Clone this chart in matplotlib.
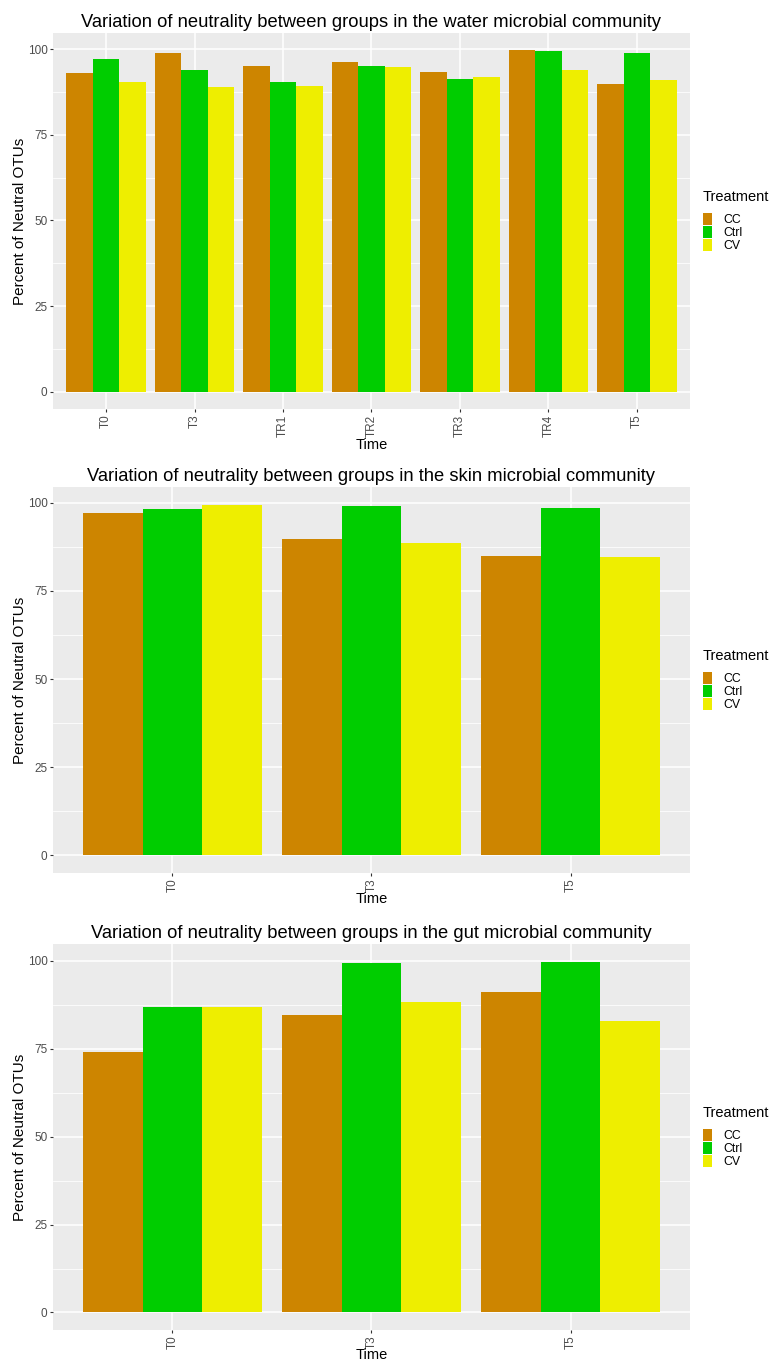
import numpy as np
import matplotlib.pyplot as plt
from matplotlib.patches import Patch

plt.rcParams['font.family'] = ['Liberation Sans', 'DejaVu Sans']

treatments = ['CC', 'Ctrl', 'CV']
colors = ['#CD8500', '#00CD00', '#EEEE00']

water_time = ['T0', 'T3', 'TR1', 'TR2', 'TR3', 'TR4', 'T5']
water_cc = [93.1, 98.8, 95.1, 96.2, 93.3, 99.7, 89.9]
water_ctrl = [97.1, 94.0, 90.4, 95.1, 91.3, 99.4, 98.8]
water_cv = [90.5, 88.9, 89.3, 94.7, 91.8, 94.0, 91.1]

skin_time = ['T0', 'T3', 'T5']
skin_cc = [97.0, 89.6, 84.8]
skin_ctrl = [98.1, 99.2, 98.4]
skin_cv = [99.5, 88.5, 84.5]

gut_time = ['T0', 'T3', 'T5']
gut_cc = [74.2, 84.5, 91.0]
gut_ctrl = [87.0, 99.5, 99.8]
gut_cv = [87.0, 88.4, 83.0]

titles = ['Variation of neutrality between groups in the water microbial community',
          'Variation of neutrality between groups in the skin microbial community',
          'Variation of neutrality between groups in the gut microbial community']

W, H = 774, 1363
fig = plt.figure(figsize=(W / 100, H / 100), dpi=100)

# panel boxes in pixels: left, top, right, bottom, and where "Time" sits
boxes = [(53, 33, 690, 409, 445), (53, 487, 690, 873, 899), (53, 944, 690, 1330, 1355)]
panels = [(water_time, [water_cc, water_ctrl, water_cv]),
          (skin_time, [skin_cc, skin_ctrl, skin_cv]),
          (gut_time, [gut_cc, gut_ctrl, gut_cv])]

for (l, t, r, b, tl), (times, series), title in zip(boxes, panels, titles):
    ax = fig.add_axes([l / W, 1 - b / H, (r - l) / W, (b - t) / H])
    ax.set_facecolor('#EBEBEB')
    x = np.arange(len(times))
    bw = 0.3
    for k, vals in enumerate(series):
        ax.bar(x + (k - 1) * bw, vals, width=bw, color=colors[k], zorder=3)

    ymax = max(max(s) for s in series)
    ax.set_ylim(-0.05 * ymax, ymax * 1.05)
    ax.set_xlim(-0.6, len(times) - 0.4)
    ax.set_yticks([0, 25, 50, 75, 100])
    ax.set_yticks([12.5, 37.5, 62.5, 87.5], minor=True)
    ax.set_xticks(x)
    ax.set_xticklabels(times, rotation=90)
    ax.grid(which='major', color='white', linewidth=1.1, zorder=1)
    ax.grid(which='minor', axis='y', color='white', linewidth=0.55, zorder=1)
    for s in ax.spines.values():
        s.set_visible(False)
    ax.tick_params(which='major', length=2.5, width=0.8, color='#333333',
                   labelsize=8.5, labelcolor='#4D4D4D', pad=1.5)
    ax.tick_params(which='minor', length=0)
    ax.set_xlabel('Time', fontsize=10.5, va='center')
    ax.xaxis.set_label_coords(0.5, -(tl - b) / (b - t))
    ax.set_ylabel('Percent of Neutral OTUs', fontsize=11, va='center')
    ax.yaxis.set_label_coords(-(l - 20) / (r - l), 0.5)
    ax.set_title(title, fontsize=13.2, pad=4)

    handles = [Patch(facecolor=c, label=n) for c, n in zip(colors, treatments)]
    leg = ax.legend(handles=handles, title='Treatment', loc='center left',
                    bbox_to_anchor=((703 - l) / (r - l), 0.5), frameon=False,
                    fontsize=8.8, title_fontsize=10.5, handlelength=0.75,
                    handleheight=1.1, handletextpad=0.9, labelspacing=0,
                    borderaxespad=0, borderpad=0)
    leg._legend_box.align = 'left'
    leg._legend_box.sep = 7

fig.savefig('out.png', dpi=100)
